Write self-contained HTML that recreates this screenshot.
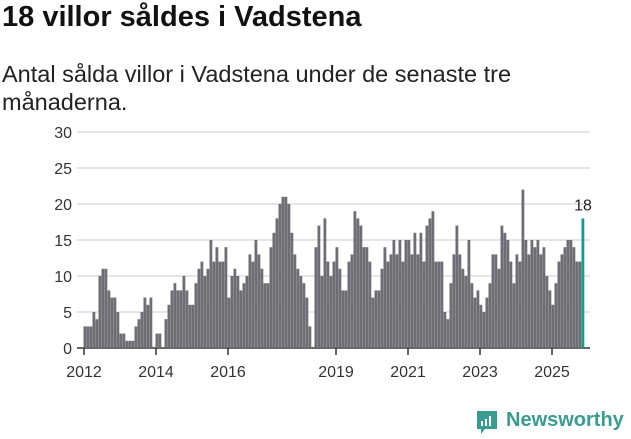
<!DOCTYPE html>
<html><head><meta charset="utf-8"><style>
body{margin:0;width:631px;height:439px;background:#fff;font-family:"Liberation Sans",sans-serif;overflow:hidden;position:relative}
#t{position:absolute;left:2px;top:1px;font-size:29px;font-weight:bold;color:#111;margin:0}
#s{position:absolute;left:2px;top:60px;font-size:23.5px;line-height:28px;color:#222;width:580px}
svg{position:absolute;left:0;top:0}
</style></head><body>
<h1 id="t">18 villor såldes i Vadstena</h1>
<div id="s">Antal sålda villor i Vadstena under de senaste tre<br>månaderna.</div>
<svg id="c" width="631" height="439"></svg>
<script>
const yTicks=[0,5,10,15,20,25,30];
const xLabels=["2012","2014","2016","2019","2021","2023","2025"];
const xLabelYears=[2012,2014,2016,2019,2021,2023,2025];
const startYear=2012;
const values=[3,3,3,5,4,10,11,11,8,7,7,5,
2,2,1,1,1,3,4,5,7,6,7,0,
2,2,0,4,6,8,9,8,8,10,8,6,
6,9,11,12,10,11,15,12,14,12,12,14,
7,10,11,10,8,9,10,13,12,15,13,11,
9,9,14,16,18,20,21,21,20,16,13,11,
10,9,7,3,0,14,17,10,18,12,10,12,
14,11,8,8,12,13,19,18,17,14,14,12,
7,8,8,11,14,12,13,15,13,15,12,15,
15,13,16,13,16,12,17,18,19,12,12,12,
5,4,9,13,17,13,11,10,15,9,7,8,
6,5,7,9,13,13,11,17,16,15,12,9,
13,12,22,15,13,15,14,15,13,14,10,8,
6,9,12,13,14,15,15,14,12,12,18];
const NS="http://www.w3.org/2000/svg",svg=document.getElementById('c');
const y=v=>348-v*7.2, x=m=>84+m*3;
function mk(t,a,p){const e=document.createElementNS(NS,t);for(const k in a)e.setAttribute(k,a[k]);(p||svg).appendChild(e);return e;}
yTicks.forEach(v=>{
 const l=mk('line',{x1:77,x2:590,y1:y(v),y2:y(v),stroke:v?'#ddd':'#333','stroke-width':1.5});
 
 
 const t=mk('text',{x:72,y:y(v)+6,'text-anchor':'end','font-size':16,fill:'#333'});
 t.textContent=v;
 
 
});
values.forEach((v,i)=>{
 if(!v)return;
 const last=i===values.length-1;
 const r=mk('rect',{x:x(i)-0.5,y:y(v),width:2.8,height:348-y(v),fill:last?'#1a9a8f':'#6e6d73'});
 
 
 if(last){const t=mk('text',{x:x(i)+1,y:y(v)-8,'text-anchor':'middle','font-size':16,fill:'#222'});t.textContent=v;
 
 }
});
xLabels.forEach((s,k)=>{
 const m=(xLabelYears[k]-startYear)*12;
 const l=mk('line',{x1:x(m),x2:x(m),y1:348,y2:355,stroke:'#333','stroke-width':1.5});
 
 
 const t=mk('text',{x:x(m),y:377,'text-anchor':'middle','font-size':16,fill:'#333'});
 t.textContent=s;
 
 
});
</script>
<div style="position:absolute;left:475px;top:409px;height:26px">
<svg width="24" height="28" style="left:0;top:0"><path d="M2 2h20v18h-12l-4 5v-5h-4z" fill="#3a9c90"/><rect x="6" y="12" width="2" height="5" fill="#fff"/><rect x="10" y="10" width="2" height="7" fill="#fff"/><rect x="14" y="7" width="2" height="10" fill="#fff"/></svg>
<span style="position:absolute;left:31px;top:0;font-size:20px;font-weight:bold;color:#3a9c90;white-space:nowrap">Newsworthy</span>
</div>
</body></html>
